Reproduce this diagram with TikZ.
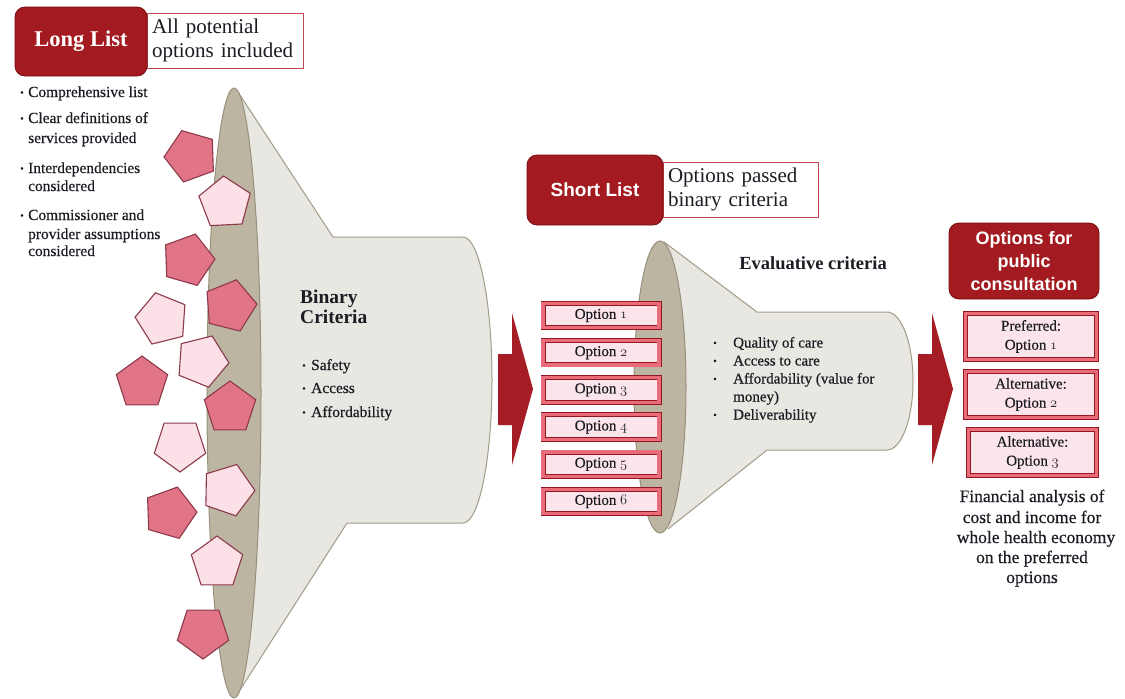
\documentclass[tikz,border=0pt]{standalone}
\usepackage{fontspec}
\setmainfont{Liberation Serif}
\newfontfamily\bodyfont{Liberation Serif}[FakeBold=0.5]
\newfontfamily\sansfont{Liberation Sans}
\usetikzlibrary{shapes.geometric}
\definecolor{boxred}{RGB}{163,27,32}
\definecolor{boxredline}{RGB}{115,14,20}
\definecolor{arrowred}{RGB}{165,28,36}
\definecolor{funbody}{RGB}{233,231,225}
\definecolor{funline}{RGB}{160,156,136}
\definecolor{funmouth}{RGB}{188,181,162}
\definecolor{mouthline}{RGB}{150,144,124}
\definecolor{pentdark}{RGB}{226,116,135}
\definecolor{pentlight}{RGB}{251,224,231}
\definecolor{pentline}{RGB}{140,58,74}
\definecolor{optouter}{RGB}{232,108,122}
\definecolor{optline}{RGB}{150,22,32}
\definecolor{optinner}{RGB}{251,228,234}
\definecolor{txt}{RGB}{28,28,36}
\definecolor{tbline}{RGB}{196,72,80}
\newcommand\osnum[1]{{\fontencoding{OML}\fontfamily{cmm}\fontseries{m}\fontshape{it}\selectfont #1}}
\begin{document}
\begin{tikzpicture}[x=1pt,y=-1pt,
  pent/.style={regular polygon, regular polygon sides=5, minimum size=54pt, inner sep=0pt, draw=pentline, line width=1.1pt},
  pd/.style={pent, fill=pentdark},
  pl/.style={pent, fill=pentlight},
  darkbox/.style={draw=boxredline, fill=boxred, rounded corners=10pt, line width=0.8pt, text=white, inner sep=0pt},
  notebox/.style={draw=tbline, fill=white, line width=1pt, inner sep=0pt, text=txt, align=left, font=\fontsize{21}{24}\selectfont},
  ln/.style={font=\bodyfont\fontsize{15.4}{18}\selectfont, text=txt, inner sep=0pt, anchor=base west},
  dot/.style={font=\bodyfont\fontsize{10}{10}\selectfont, text=txt, inner sep=0pt},
  head/.style={font=\bfseries\fontsize{19.5}{20}\selectfont, text=txt, inner sep=0pt, anchor=base west},
  opt/.style={draw=optline, double=optouter, double distance=3.2pt, line width=0.9pt, fill=optinner, minimum width=116pt, minimum height=24.5pt, inner sep=0pt, font=\bodyfont\fontsize{15}{18}\selectfont, text=txt},
  pub/.style={opt, minimum width=131.5pt, minimum height=46.5pt, align=center, font=\bodyfont\fontsize{15}{19}\selectfont},
  fin/.style={font=\bodyfont\fontsize{17.5}{20}\selectfont, text=txt, inner sep=0pt, anchor=base},
  outline/.style={draw=funline, line width=1pt},
  mouth/.style={draw=mouthline, fill=funmouth, line width=1pt},
  blockarrow/.style={fill=arrowred}
]
\useasboundingbox (0,0) rectangle (1125,699);
\fill[white] (0,0) rectangle (1125,699);

% ---------- funnel 1 ----------
\fill[funbody] (236,89) -- (333,237) -- (463,237) arc[start angle=-90,end angle=90,x radius=29,y radius=143] -- (347,523) -- (240,690) -- (234,393) -- cycle;
\draw[outline] (236,89) -- (333,237) -- (463,237) arc[start angle=-90,end angle=90,x radius=29,y radius=143] -- (347,523) -- (240,690);
\draw[mouth] (234,393) ellipse[x radius=27, y radius=305];

% pentagons
\node[pd, rotate=20]  (p1)  at (191,156) {};
\node[pl, rotate=3]   (p2)  at (225,203) {};
\node[pd, rotate=-16] (p3)  at (188,260) {};
\node[pd, rotate=-14] (p4)  at (230,306) {};
\node[pl, rotate=14]  (p5)  at (162,319) {};
\node[pl, rotate=-22] (p6)  at (202,361) {};
\node[pd]             (p7)  at (142,383) {};
\node[pd]             (p8)  at (230,408) {};
\node[pl, rotate=180] (p9)  at (180,445) {};
\node[pl, rotate=-19] (p10) at (228,490) {};
\node[pd, rotate=-16] (p11) at (170,513) {};
\node[pl]             (p12) at (217,563) {};
\node[pd, rotate=180] (p13) at (203,632) {};

% Binary criteria text
\node[head] (bc1) at (300,303) {Binary};
\node[head] (bc2) at (300,323) {Criteria};
\node[dot] (bd1) at (304,366.5) {\textbullet};
\node[ln] (bs1) at (311,370) {Safety};
\node[dot] (bd2) at (304,389.5) {\textbullet};
\node[ln] (bs2) at (311,393) {Access};
\node[dot] (bd3) at (304,413.5) {\textbullet};
\node[ln] (bs3) at (311,417) {Affordability};

% ---------- long list ----------
\node[notebox, minimum width=156pt, minimum height=55pt, text width=146pt] (lnote) at (225,40.5) {All potential\\options included};
\node[darkbox, minimum width=132pt, minimum height=69pt, font=\bfseries\fontsize{22.5}{24}\selectfont] (long) at (81,41.5) {Long List};

\node[dot] (ld1) at (22,93.5) {\textbullet};
\node[ln] (l1) at (28,97) {Comprehensive list};
\node[dot] (ld2) at (22,119.5) {\textbullet};
\node[ln] (l2a) at (28,123) {Clear definitions of};
\node[ln] (l2b) at (28,143) {services provided};
\node[dot] (ld3) at (22,169.5) {\textbullet};
\node[ln] (l3a) at (28,173) {Interdependencies};
\node[ln] (l3b) at (28,191) {considered};
\node[dot] (ld4) at (22,216.5) {\textbullet};
\node[ln] (l4a) at (28,220) {Commissioner and};
\node[ln] (l4b) at (28,239) {provider assumptions};
\node[ln] (l4c) at (28,256) {considered};

% arrow 1
\fill[blockarrow] (498,354) -- (512,354) -- (512,313) -- (533,389) -- (512,465) -- (512,425) -- (498,425) -- cycle;

% ---------- funnel 2 ----------
\fill[funbody] (664,242) -- (757,312) -- (887,312) arc[start angle=-90,end angle=90,x radius=26,y radius=69] -- (767,450) -- (668,529) -- (660,387) -- cycle;
\draw[outline] (664,242) -- (757,312) -- (887,312) arc[start angle=-90,end angle=90,x radius=26,y radius=69] -- (767,450) -- (668,529);
\draw[mouth] (660,387) ellipse[x radius=26, y radius=146];

\node[font=\bfseries\fontsize{18.5}{20}\selectfont, text=txt, inner sep=0pt, anchor=base] (eval) at (813,269) {Evaluative criteria};
\node[dot] (ed1) at (715,344) {\textbullet};
\node[ln, font=\bodyfont\fontsize{15}{18}\selectfont] (e1) at (733,347.5) {Quality of care};
\node[dot] (ed2) at (715,362) {\textbullet};
\node[ln, font=\bodyfont\fontsize{15}{18}\selectfont] (e2) at (733,365.5) {Access to care};
\node[dot] (ed3) at (715,380) {\textbullet};
\node[ln, font=\bodyfont\fontsize{15}{18}\selectfont] (e3a) at (733,383.5) {Affordability (value for};
\node[ln, font=\bodyfont\fontsize{15}{18}\selectfont] (e3b) at (733,401.5) {money)};
\node[dot] (ed4) at (715,416) {\textbullet};
\node[ln, font=\bodyfont\fontsize{15}{18}\selectfont] (e4) at (733,419.5) {Deliverability};

% short list
\node[notebox, minimum width=155pt, minimum height=55pt, text width=145pt] (snote) at (740.5,189.5) {Options passed\\binary criteria};
\node[darkbox, minimum width=136pt, minimum height=70pt, font=\sansfont\bfseries\fontsize{19}{22}\selectfont] (short) at (595,190) {Short List};

% options
\node[opt] (o1) at (601,315.5) {Option \osnum{1}};
\node[opt] (o2) at (601,352.7) {Option \osnum{2}};
\node[opt] (o3) at (601,389.9) {Option \osnum{3}};
\node[opt] (o4) at (601,427.1) {Option \osnum{4}};
\node[opt] (o5) at (601,464.3) {Option \osnum{5}};
\node[opt] (o6) at (601,501.5) {Option \osnum{6}};

% arrow 2
\fill[blockarrow] (918,354) -- (932,354) -- (932,313) -- (953,389) -- (932,465) -- (932,425) -- (918,425) -- cycle;

% ---------- public consultation ----------
\node[darkbox, minimum width=150pt, minimum height=76pt, align=center, font=\sansfont\bfseries\fontsize{18}{23}\selectfont] (pubc) at (1024,261) {Options for\\public\\consultation};
\node[pub] (pref) at (1031,336.5) {Preferred:\\Option \osnum{1}};
\node[pub] (alt1) at (1031,394.5) {Alternative:\\Option \osnum{2}};
\node[pub, minimum width=128.5pt] (alt2) at (1032.5,452.5) {Alternative:\\Option \osnum{3}};

\node[fin] (f1) at (1032,502) {Financial analysis of};
\node[fin] (f2) at (1032,523) {cost and income for};
\node[fin] (f3) at (1036,543) {whole health economy};
\node[fin] (f4) at (1032,563) {on the preferred};
\node[fin] (f5) at (1032,583) {options};
\end{tikzpicture}
\end{document}
